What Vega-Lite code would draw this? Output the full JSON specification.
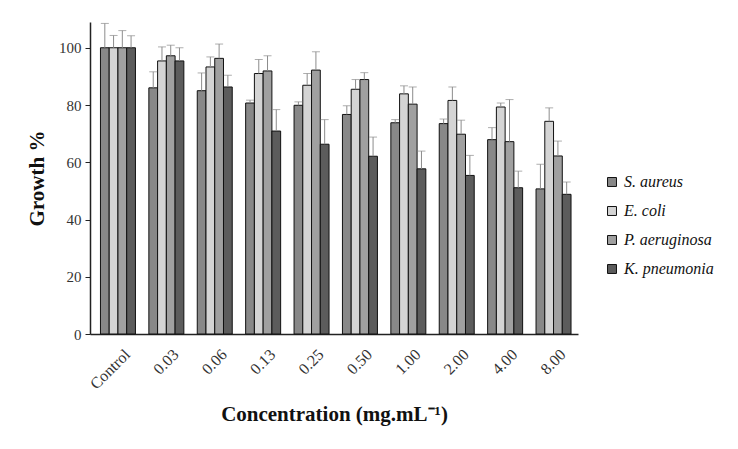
{
  "$schema": "https://vega.github.io/schema/vega-lite/v6.json",
  "autosize": "none",
  "width": 488,
  "height": 312,
  "padding": {"left": 90, "top": 22, "right": 160, "bottom": 115},
  "background": "white",
  "config": {
    "view": {"stroke": null},
    "font": "Liberation Serif"
  },
  "data": {
    "values": [
      {"conc": "Control", "species": "S. aureus", "growth": 100, "upper": 108.5},
      {"conc": "Control", "species": "E. coli", "growth": 100, "upper": 104.3},
      {"conc": "Control", "species": "P. aeruginosa", "growth": 100, "upper": 106},
      {"conc": "Control", "species": "K. pneumonia", "growth": 100, "upper": 104.2},
      {"conc": "0.03", "species": "S. aureus", "growth": 86.0, "upper": 91.6},
      {"conc": "0.03", "species": "E. coli", "growth": 95.4, "upper": 100.3},
      {"conc": "0.03", "species": "P. aeruginosa", "growth": 97.2, "upper": 100.9},
      {"conc": "0.03", "species": "K. pneumonia", "growth": 95.4, "upper": 100.0},
      {"conc": "0.06", "species": "S. aureus", "growth": 85.0, "upper": 91.2},
      {"conc": "0.06", "species": "E. coli", "growth": 93.3, "upper": 96.8},
      {"conc": "0.06", "species": "P. aeruginosa", "growth": 96.3, "upper": 101.3},
      {"conc": "0.06", "species": "K. pneumonia", "growth": 86.3, "upper": 90.4},
      {"conc": "0.13", "species": "S. aureus", "growth": 80.7, "upper": 81.7},
      {"conc": "0.13", "species": "E. coli", "growth": 91.0, "upper": 95.9},
      {"conc": "0.13", "species": "P. aeruginosa", "growth": 91.9, "upper": 97.2},
      {"conc": "0.13", "species": "K. pneumonia", "growth": 70.9, "upper": 78.4},
      {"conc": "0.25", "species": "S. aureus", "growth": 79.9, "upper": 81.1},
      {"conc": "0.25", "species": "E. coli", "growth": 86.9, "upper": 91.0},
      {"conc": "0.25", "species": "P. aeruginosa", "growth": 92.2, "upper": 98.6},
      {"conc": "0.25", "species": "K. pneumonia", "growth": 66.3, "upper": 74.9},
      {"conc": "0.50", "species": "S. aureus", "growth": 76.7, "upper": 79.7},
      {"conc": "0.50", "species": "E. coli", "growth": 85.5, "upper": 88.9},
      {"conc": "0.50", "species": "P. aeruginosa", "growth": 88.9, "upper": 91.3},
      {"conc": "0.50", "species": "K. pneumonia", "growth": 62.1, "upper": 68.8},
      {"conc": "1.00", "species": "S. aureus", "growth": 73.8, "upper": 74.9},
      {"conc": "1.00", "species": "E. coli", "growth": 83.9, "upper": 86.7},
      {"conc": "1.00", "species": "P. aeruginosa", "growth": 80.3, "upper": 86.3},
      {"conc": "1.00", "species": "K. pneumonia", "growth": 57.7, "upper": 63.9},
      {"conc": "2.00", "species": "S. aureus", "growth": 73.5, "upper": 75.1},
      {"conc": "2.00", "species": "E. coli", "growth": 81.6, "upper": 86.3},
      {"conc": "2.00", "species": "P. aeruginosa", "growth": 69.8, "upper": 74.7},
      {"conc": "2.00", "species": "K. pneumonia", "growth": 55.4, "upper": 62.4},
      {"conc": "4.00", "species": "S. aureus", "growth": 67.9, "upper": 72.1},
      {"conc": "4.00", "species": "E. coli", "growth": 79.3, "upper": 80.7},
      {"conc": "4.00", "species": "P. aeruginosa", "growth": 67.2, "upper": 81.9},
      {"conc": "4.00", "species": "K. pneumonia", "growth": 51.1, "upper": 56.9},
      {"conc": "8.00", "species": "S. aureus", "growth": 50.7, "upper": 59.3},
      {"conc": "8.00", "species": "E. coli", "growth": 74.3, "upper": 79.0},
      {"conc": "8.00", "species": "P. aeruginosa", "growth": 62.2, "upper": 67.4},
      {"conc": "8.00", "species": "K. pneumonia", "growth": 48.8, "upper": 53.1}
    ]
  },
  "encoding": {
    "x": {
      "field": "conc",
      "type": "nominal",
      "sort": null,
      "scale": {"paddingInner": 0.277, "paddingOuter": 0.18, "align": 0.6},
      "axis": {
        "title": "Concentration (mg.mL⁻¹)",
        "titleFont": "Liberation Serif",
        "titleFontSize": 21,
        "titleFontWeight": "bold",
        "titleColor": "#111",
        "titlePadding": 12,
        "labelAngle": -45,
        "labelFont": "Liberation Serif",
        "labelFontSize": 16,
        "labelColor": "#333",
        "labelPadding": 12,
        "labelOffset": 4,
        "ticks": false,
        "domainColor": "#222",
        "domainWidth": 1.5
      }
    },
    "xOffset": {
      "field": "species",
      "type": "nominal",
      "sort": ["S. aureus", "E. coli", "P. aeruginosa", "K. pneumonia"],
      "scale": {"paddingInner": 0, "paddingOuter": 0}
    }
  },
  "layer": [
    {
      "mark": {"type": "bar", "stroke": "#111", "strokeWidth": 1},
      "encoding": {
        "y": {
          "field": "growth",
          "type": "quantitative",
          "scale": {"domain": [0, 109], "nice": false},
          "axis": {
            "title": "Growth %",
            "titleFont": "Liberation Serif",
            "titleFontSize": 21,
            "titleFontWeight": "bold",
            "titleColor": "#111",
            "titlePadding": 11,
            "values": [0, 20, 40, 60, 80, 100],
            "grid": false,
            "labelFont": "Liberation Serif",
            "labelFontSize": 15,
            "labelColor": "#333",
            "labelPadding": 4,
            "tickColor": "#222",
            "tickSize": 5,
            "domainColor": "#222",
            "domainWidth": 1.5
          }
        },
        "color": {
          "field": "species",
          "type": "nominal",
          "sort": ["S. aureus", "E. coli", "P. aeruginosa", "K. pneumonia"],
          "scale": {"range": ["#888888", "#d4d4d4", "#a0a0a0", "#5c5c5c"]},
          "legend": {
            "title": null,
            "orient": "none",
            "legendX": 514,
            "legendY": 152,
            "symbolType": "square",
            "symbolSize": 80,
            "symbolStrokeColor": "#111",
            "symbolStrokeWidth": 1,
            "labelFont": "Liberation Serif",
            "labelFontSize": 16,
            "labelFontStyle": "italic",
            "labelColor": "#111",
            "rowPadding": 13,
            "labelOffset": 4
          }
        }
      }
    },
    {
      "mark": {"type": "rule", "color": "#8c8c8c", "strokeWidth": 1},
      "encoding": {
        "y": {"field": "growth", "type": "quantitative"},
        "y2": {"field": "upper"}
      }
    },
    {
      "mark": {"type": "tick", "color": "#8c8c8c", "thickness": 1, "size": 8, "orient": "horizontal"},
      "encoding": {
        "y": {"field": "upper", "type": "quantitative"}
      }
    }
  ]
}
